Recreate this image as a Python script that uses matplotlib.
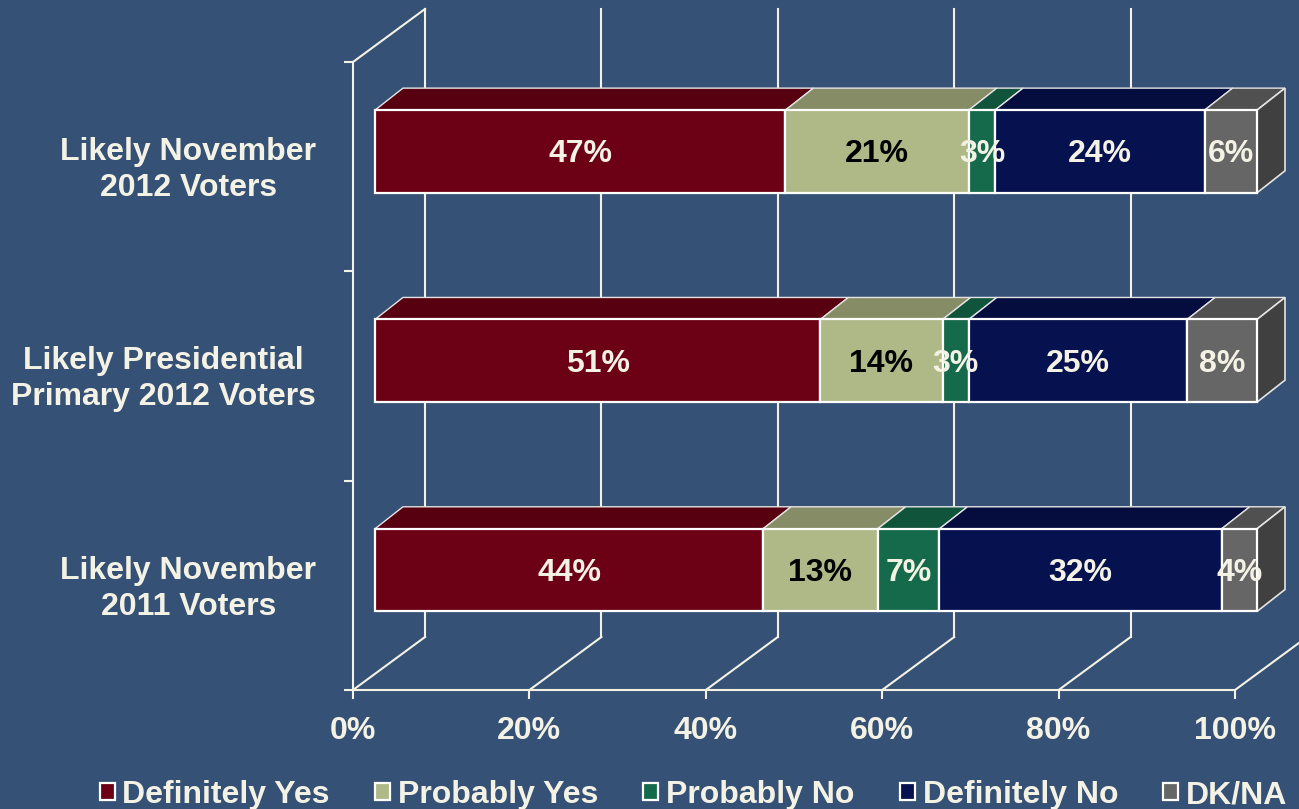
import numpy as np
import matplotlib
matplotlib.use("Agg")
import matplotlib.pyplot as plt
from matplotlib.patches import Polygon
from matplotlib.transforms import Affine2D

# ---- data ----
categories = ["Likely November\n2011 Voters",
              "Likely Presidential\nPrimary 2012 Voters",
              "Likely November\n2012 Voters"]
series_names = ["Definitely Yes", "Probably Yes", "Probably No", "Definitely No", "DK/NA"]
definitely_yes = [44, 51, 47]
probably_yes = [13, 14, 21]
probably_no = [7, 3, 3]
definitely_no = [32, 25, 24]
dk_na = [4, 8, 6]
x_ticks = [0, 20, 40, 60, 80, 100]

# ---- styles ----
BG = "#365176"
INK = "#F4F2E4"
front_cols = ["#6C0014", "#AEB987", "#166A4C", "#06114F", "#666666"]
top_cols = ["#560010", "#858C66", "#11543C", "#050D3F", "#505050"]
side_col = "#404040"
label_cols = [INK, "black", INK, INK, INK]
FS = 23
plt.rcParams["font.family"] = ["Liberation Sans", "DejaVu Sans"]
plt.rcParams["font.weight"] = "bold"

W, H = 1299, 809
fig = plt.figure(figsize=(W / 100, H / 100), dpi=100, facecolor=BG)
ax = fig.add_axes([353 / W, 1 - 690 / H, (1235 - 353) / W, (690 - 62) / H])
ax.set_facecolor("none")
ax.set_xlim(0, 100)
ax.set_ylim(0, 3)

# pixel scales of the axes, used for the oblique depth
px_x = (1235 - 353) / 100
px_y = (690 - 62) / 3
wall_dx, wall_dy = 72 / px_x, 53 / px_y        # depth of the chart box
bar_dx, bar_dy = 28 / px_x, 22 / px_y          # depth of each bar
front = ax.transData + Affine2D().translate(22, 15.2)
label_tf = front + Affine2D().translate(0, -3)

# walls and floor
for t in x_ticks:
    ax.plot([t, t + wall_dx], [0, wall_dy], color=INK, lw=1.5, zorder=1, clip_on=False)
    ax.plot([t + wall_dx, t + wall_dx], [wall_dy, 3 + wall_dy], color=INK, lw=1.5, zorder=1, clip_on=False)
ax.plot([0, wall_dx], [3, 3 + wall_dy], color=INK, lw=1.5, zorder=1, clip_on=False)

# stacked bars, normalised to 100 %
values = np.array([definitely_yes, probably_yes, probably_no, definitely_no, dk_na], dtype=float)
shares = values / values.sum(axis=0) * 100
y_pos = np.arange(len(categories)) + 0.5
bar_h = 0.395
handles = []
left = np.zeros(len(categories))
for i, name in enumerate(series_names):
    w = shares[i]
    for yy, l, v in zip(y_pos, left, w):
        top = yy + bar_h / 2
        ax.add_patch(Polygon([(l, top), (l + v, top), (l + v + bar_dx, top + bar_dy), (l + bar_dx, top + bar_dy)],
                             closed=True, facecolor=top_cols[i], edgecolor="#E4E4E4", lw=1,
                             transform=front, zorder=3, clip_on=False))
    bars = ax.barh(y_pos, w, left=left, height=bar_h, color=front_cols[i], edgecolor="white",
                   linewidth=1.6, transform=front, zorder=4, clip_on=False, label=name)
    handles.append(bars)
    for yy, l, v, raw in zip(y_pos, left, w, values[i]):
        ax.text(l + v / 2, yy, f"{raw:.0f}%", color=label_cols[i], fontsize=FS, fontweight="bold",
                ha="center", va="center", transform=label_tf, zorder=6, clip_on=False)
    left = left + w

# side face of the stack
for yy in y_pos:
    lo, hi = yy - bar_h / 2, yy + bar_h / 2
    ax.add_patch(Polygon([(100, lo), (100 + bar_dx, lo + bar_dy), (100 + bar_dx, hi + bar_dy), (100, hi)],
                         closed=True, facecolor=side_col, edgecolor="#E4E4E4", lw=1.2,
                         transform=front, zorder=3, clip_on=False))

# axes
for s in ("top", "right"):
    ax.spines[s].set_visible(False)
for s in ("left", "bottom"):
    ax.spines[s].set_color(INK)
    ax.spines[s].set_linewidth(1.5)
ax.set_xticks(x_ticks)
ax.set_xticklabels([f"{t}%" for t in x_ticks], fontsize=FS, fontweight="bold", color=INK)
ax.tick_params(axis="x", length=6.5, width=1.5, color=INK, pad=12)
ax.set_yticks(np.arange(len(categories) + 1))
ax.set_yticklabels([])
ax.tick_params(axis="y", which="major", length=6.5, width=1.5, color=INK)
ax.set_yticks(y_pos, minor=True)
ax.set_yticklabels(categories, minor=True, fontsize=FS, fontweight="bold", color=INK,
                   multialignment="center", linespacing=1.26)
ax.tick_params(axis="y", which="minor", length=0, pad=26.5)
for lab in ax.get_yticklabels(minor=True):
    lab.set_transform(lab.get_transform() + Affine2D().translate(0, 3))

# legend
fig.legend(handles=handles, labels=series_names, loc="center", bbox_to_anchor=(693.5 / W, 1 - 795 / H),
           ncol=5, frameon=False, fontsize=FS, labelcolor=INK,
           handlelength=0.47, handleheight=0.47, handletextpad=0.24, columnspacing=1.42,
           borderpad=0, borderaxespad=0)

fig.savefig("out.png", dpi=100, facecolor=BG)
